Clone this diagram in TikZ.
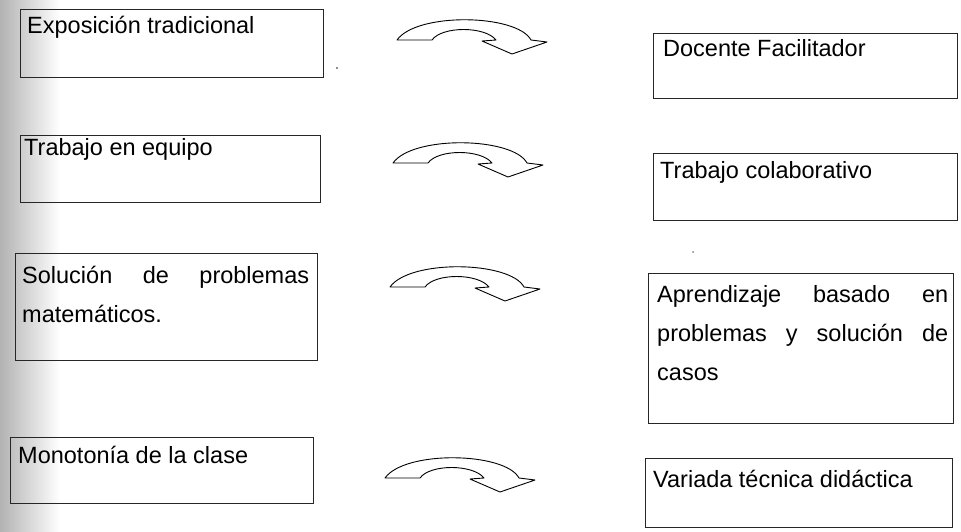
\documentclass[tikz,border=0pt]{standalone}
\usepackage{fontspec}
\setmainfont{Liberation Sans}
\begin{document}
\begin{tikzpicture}[x=1pt,y=-1pt,
  box/.style={draw=black!85,line width=1.1pt,inner sep=0pt,anchor=north west},
  lbl/.style={inner sep=0pt,anchor=base west,font=\fontsize{23.5}{39}\selectfont},
  para/.style={inner sep=0pt,anchor=north west,align=left,font=\fontsize{23.5}{39}\selectfont},
  pics/uarrow/.style={code={
    \draw[line width=0.9pt,line join=round,fill=white]
      (0,0) -- (35,0)
      .. controls (45,-14) and (88,-14) .. (99,0)
      -- (85,1) -- (115,14) -- (150,2) -- (134,0)
      .. controls (120,-26) and (20,-28) .. (0,0) -- cycle;
  }}]
\useasboundingbox (0,0) rectangle (961,531);
\shade[left color=black!30,right color=white] (0,0) rectangle (60,531);
% left column
\node[box,minimum width=303pt,minimum height=68pt] (l1) at (20,9) {};
\node[lbl] (t1) at (27,33) {Exposición tradicional};
\node[box,minimum width=300pt,minimum height=67pt] (l2) at (20,135) {};
\node[lbl] (t2) at (24,155) {Trabajo en equipo};
\node[box,minimum width=302pt,minimum height=107pt] (l3) at (15,253) {};
\node[para] (t3) at (22,256) {\strut\makebox[287pt][s]{Solución de problemas}\\matemáticos.};
\node[box,minimum width=303pt,minimum height=66pt] (l4) at (10,437) {};
\node[lbl] (t4) at (18,463) {Monotonía de la clase};
% right column
\node[box,minimum width=304pt,minimum height=65pt] (r1) at (653,33) {};
\node[lbl] (u1) at (663,56) {Docente Facilitador};
\node[box,minimum width=304pt,minimum height=67pt] (r2) at (653,153) {};
\node[lbl] (u2) at (660,178) {Trabajo colaborativo};
\node[box,minimum width=305pt,minimum height=150pt] (r3) at (648,273) {};
\node[para] (u3) at (657,275) {\strut\makebox[291pt][s]{Aprendizaje basado en}\\\makebox[291pt][s]{problemas y solución de}\\casos};
\node[box,minimum width=307pt,minimum height=69pt] (r4) at (645,458) {};
\node[lbl] (u4) at (653,487) {Variada técnica didáctica};
% arrows
\pic at (397,40) {uarrow};
\pic at (393,163) {uarrow};
\pic at (390,287) {uarrow};
\pic at (385,478) {uarrow};
% specks
\fill[black!60] (337,68) circle (1.2pt);
\fill[black!50] (693,252) circle (1pt);
\end{tikzpicture}
\end{document}
